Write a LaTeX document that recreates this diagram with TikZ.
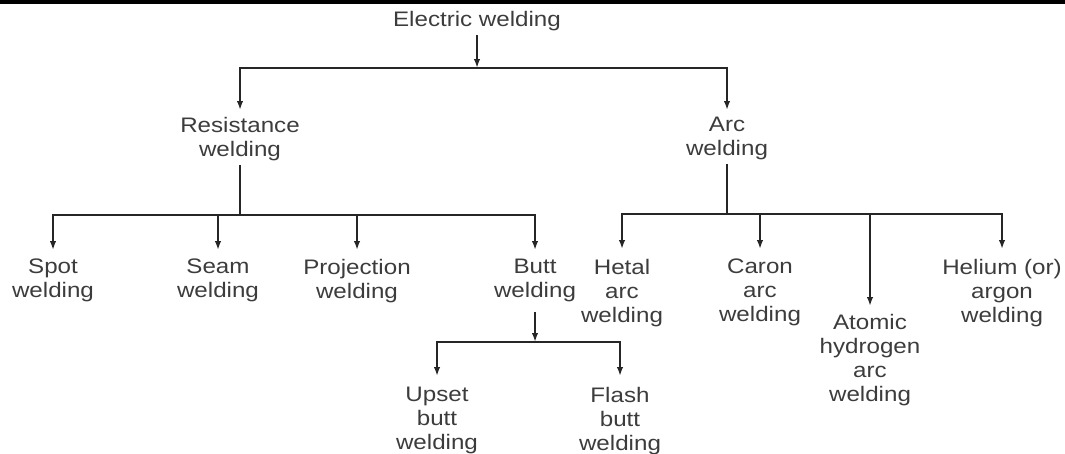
\documentclass[tikz,border=0pt]{standalone}
\usepackage{fontspec}
\setmainfont{Liberation Sans}[FakeStretch=1.15]
\usetikzlibrary{arrows.meta}
\definecolor{txt}{HTML}{3C3C3C}
\definecolor{ln}{HTML}{262626}
\begin{document}
\begin{tikzpicture}[x=1pt,y=-1pt,
 lbl/.style={anchor=north,inner sep=0pt,align=center,text=txt,font=\fontsize{21pt}{24pt}\selectfont},
 conn/.style={draw=ln,line width=1.8pt},
 bar/.style={conn,line cap=rect},
 arr/.style={conn,-{Latex[length=9pt,width=6.5pt]}}]
\useasboundingbox (0,0) rectangle (1065,453);
\fill[black] (0,0) rectangle (1065,3.5);

\node[lbl] (ew) at (477,11) {Electric welding};
\node[lbl] (res) at (240,117) {Resistance\\welding};
\node[lbl] (arc) at (727,117) {Arc\\welding};
\node[lbl] (spot) at (53,259) {Spot\\welding};
\node[lbl] (seam) at (218,259) {Seam\\welding};
\node[lbl] (proj) at (357,259) {Projection\\welding};
\node[lbl] (butt) at (535,259) {Butt\\welding};
\node[lbl] (upset) at (437,387) {Upset\\butt\\welding};
\node[lbl] (flash) at (620,387) {Flash\\butt\\welding};
\node[lbl] (hetal) at (622,259) {Hetal\\arc\\welding};
\node[lbl] (caron) at (760,259) {Caron\\arc\\welding};
\node[lbl] (atom) at (870,314) {Atomic\\hydrogen\\arc\\welding};
\node[lbl] (hel) at (1002,259) {Helium (or)\\argon\\welding};

% level 1
\coordinate (j1) at (477,68);
\draw[arr] ([yshift=-4pt]ew.south) -- (j1);
\draw[bar] (res.north |- j1) -- (arc.north |- j1);
\draw[arr] (res.north |- j1) -- ([yshift=7pt]res.north);
\draw[arr] (arc.north |- j1) -- ([yshift=7pt]arc.north);

% resistance
\coordinate (j2) at (240,215);
\draw[conn] ([yshift=-4pt]res.south) -- (j2);
\draw[bar] (spot.north |- j2) -- (butt.north |- j2);
\foreach \n in {spot,seam,proj,butt}
  \draw[arr] (\n.north |- j2) -- ([yshift=9pt]\n.north);

% arc
\coordinate (j3) at (727,214);
\draw[conn] ([yshift=-4pt]arc.south) -- (j3);
\draw[bar] (hetal.north |- j3) -- (hel.north |- j3);
\foreach \n in {hetal,caron,hel}
  \draw[arr] (\n.north |- j3) -- ([yshift=10pt]\n.north);
\draw[arr] (atom.north |- j3) -- ([yshift=8pt]atom.north);

% butt
\coordinate (j4) at (535,342);
\draw[arr] ([yshift=-10pt]butt.south) -- (j4);
\draw[bar] (upset.north |- j4) -- (flash.north |- j4);
\draw[arr] (upset.north |- j4) -- ([yshift=11pt]upset.north);
\draw[arr] (flash.north |- j4) -- ([yshift=11pt]flash.north);
\end{tikzpicture}
\end{document}
